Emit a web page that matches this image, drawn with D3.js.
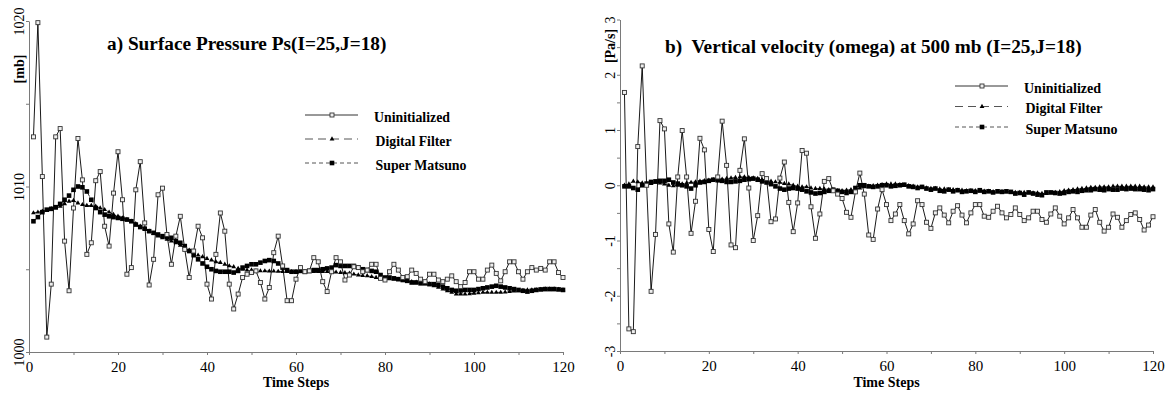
<!DOCTYPE html>
<html>
<head>
<meta charset="utf-8">
<script src="https://cdn.jsdelivr.net/npm/d3@7"></script>
<style>
  body { margin: 0; background: #fff; }
  svg { font-family: "Liberation Serif", "Times New Roman", serif; }
</style>
</head>
<body>
<svg id="chart" width="1169" height="394"></svg>
<script>
// time steps 1..120
const steps = d3.range(1, 121);

// a) surface pressure [mb]
const psUninit = [
  1013.0,1019.9,1010.6,1000.9,1004.1,1013.0,1013.5,1006.7,1003.7,1008.7,
  1012.9,1010.4,1005.9,1006.6,1010.35,1010.9,1007.6,1006.4,1009.6,1012.1,
  1009.2,1004.7,1005.1,1009.8,1011.5,1007.8,1004.05,1005.6,1009.5,1009.9,
  1007.1,1005.3,1007.0,1008.2,1006.2,1004.5,1006.1,1007.6,1006.9,1004.1,
  1003.2,1005.9,1008.4,1007.3,1004.1,1002.6,1003.5,1004.5,1004.7,1004.8,
  1004.9,1004.2,1003.2,1003.9,1006.0,1007.0,1005.2,1003.1,1003.1,1004.4,
  1005.1,1004.85,1004.9,1005.7,1005.45,1004.25,1003.65,1004.85,1005.7,1005.45,
  1004.35,1004.65,1005.15,1005.1,1004.85,1004.95,1005.3,1005.3,1004.45,1004.35,
  1004.85,1005.3,1004.95,1004.5,1004.55,1004.95,1004.75,1004.4,1004.25,1004.7,
  1004.7,1004.35,1004.25,1004.4,1004.6,1004.25,1003.95,1004.2,1004.85,1004.85,
  1004.4,1004.4,1004.95,1005.25,1004.75,1004.3,1004.85,1005.45,1005.45,1004.85,
  1004.4,1004.85,1005.1,1004.95,1005.05,1004.95,1005.45,1005.45,1004.8,1004.5
];
const psDigital = [
  1008.4,1008.45,1008.5,1008.55,1008.65,1008.7,1008.8,1008.95,1009.1,1009.15,
  1009.0,1008.9,1008.85,1008.85,1008.8,1008.7,1008.6,1008.45,1008.3,1008.2,
  1008.1,1008.0,1007.9,1007.75,1007.6,1007.45,1007.3,1007.15,1007.0,1006.9,
  1006.8,1006.7,1006.6,1006.45,1006.3,1006.15,1006.0,1005.85,1005.75,1005.65,
  1005.55,1005.45,1005.4,1005.3,1005.2,1005.15,1005.05,1005.0,1004.95,1004.95,
  1004.9,1004.9,1004.9,1004.88,1004.88,1004.87,1004.86,1004.85,1004.85,1004.85,
  1004.85,1004.85,1004.85,1004.85,1004.85,1004.85,1004.85,1004.85,1004.82,1004.8,
  1004.78,1004.75,1004.7,1004.65,1004.62,1004.6,1004.55,1004.5,1004.48,1004.45,
  1004.42,1004.4,1004.38,1004.35,1004.3,1004.25,1004.22,1004.2,1004.15,1004.1,
  1004.0,1003.9,1003.8,1003.7,1003.6,1003.5,1003.5,1003.5,1003.52,1003.55,
  1003.57,1003.6,1003.6,1003.6,1003.6,1003.6,1003.62,1003.65,1003.68,1003.7,
  1003.72,1003.75,1003.75,1003.75,1003.78,1003.8,1003.8,1003.8,1003.78,1003.75
];
const psMatsuno = [
  1007.9,1008.15,1008.45,1008.6,1008.65,1008.75,1008.95,1009.2,1009.45,1009.8,
  1010.0,1009.95,1009.7,1009.2,1008.7,1008.45,1008.3,1008.2,1008.15,1008.1,
  1008.05,1008.0,1007.9,1007.7,1007.55,1007.45,1007.3,1007.2,1007.1,1007.0,
  1006.95,1006.9,1006.7,1006.6,1006.4,1006.1,1005.85,1005.6,1005.35,1005.15,
  1005.0,1004.9,1004.85,1004.85,1004.85,1004.8,1004.9,1005.1,1005.2,1005.3,
  1005.3,1005.4,1005.5,1005.55,1005.5,1005.35,1005.1,1004.95,1004.85,1004.85,
  1004.9,1004.85,1004.9,1004.95,1004.95,1005.0,1005.05,1005.1,1005.25,1005.2,
  1005.2,1005.2,1005.2,1005.1,1005.0,1004.95,1004.9,1004.85,1004.65,1004.5,
  1004.5,1004.45,1004.4,1004.35,1004.3,1004.2,1004.2,1004.15,1004.15,1004.1,
  1004.1,1004.05,1003.95,1003.85,1003.75,1003.7,1003.72,1003.75,1003.75,1003.75,
  1003.8,1003.85,1003.9,1003.95,1004.0,1003.95,1003.9,1003.85,1003.8,1003.75,
  1003.7,1003.65,1003.7,1003.75,1003.78,1003.8,1003.8,1003.8,1003.78,1003.75
];

// b) omega at 500 mb [Pa/s]
const omUninit = [
  1.68,-2.6,-2.65,0.7,2.16,0.0,-1.92,-0.89,1.17,1.02,
  -0.7,-1.21,0.15,0.99,0.15,-0.87,-0.29,0.85,0.64,-0.8,
  -1.2,0.15,1.16,0.36,-1.08,-1.13,0.27,0.84,-0.05,-1.0,
  -0.55,0.21,0.12,-0.66,-0.61,0.13,0.42,-0.31,-0.84,-0.32,
  0.63,0.58,-0.39,-0.96,-0.52,0.07,0.12,-0.1,-0.16,-0.24,
  -0.49,-0.58,-0.12,0.22,-0.16,-0.9,-0.98,-0.43,-0.08,-0.35,
  -0.64,-0.52,-0.35,-0.64,-0.88,-0.7,-0.28,-0.35,-0.67,-0.78,
  -0.5,-0.41,-0.54,-0.68,-0.47,-0.37,-0.54,-0.68,-0.5,-0.35,
  -0.35,-0.56,-0.58,-0.47,-0.38,-0.5,-0.59,-0.53,-0.41,-0.53,
  -0.64,-0.59,-0.47,-0.47,-0.62,-0.67,-0.52,-0.41,-0.56,-0.7,
  -0.59,-0.44,-0.59,-0.76,-0.76,-0.54,-0.44,-0.67,-0.83,-0.76,
  -0.52,-0.58,-0.76,-0.64,-0.53,-0.5,-0.62,-0.81,-0.72,-0.57
];
const omDigital = [
  0.0,0.02,0.07,0.06,0.04,0.02,0.03,0.05,0.04,0.02,
  0.0,-0.01,0.0,0.02,0.04,0.05,0.06,0.07,0.08,0.09,
  0.1,0.1,0.11,0.12,0.13,0.14,0.15,0.15,0.14,0.13,
  0.12,0.1,0.09,0.07,0.06,0.05,0.03,0.02,0.0,-0.02,
  -0.03,-0.03,-0.05,-0.06,-0.06,-0.07,-0.08,-0.09,-0.1,-0.1,
  -0.09,-0.08,-0.07,-0.05,-0.03,-0.02,-0.01,0.0,0.01,0.02,
  0.02,0.02,0.01,0.0,-0.01,-0.02,-0.03,-0.04,-0.05,-0.06,
  -0.06,-0.07,-0.07,-0.08,-0.08,-0.09,-0.09,-0.1,-0.1,-0.1,
  -0.11,-0.11,-0.11,-0.12,-0.12,-0.12,-0.12,-0.13,-0.13,-0.13,
  -0.13,-0.14,-0.14,-0.14,-0.15,-0.15,-0.14,-0.13,-0.12,-0.1,
  -0.09,-0.08,-0.07,-0.06,-0.05,-0.04,-0.04,-0.03,-0.03,-0.03,
  -0.02,-0.02,-0.02,-0.02,-0.02,-0.02,-0.02,-0.03,-0.03,-0.03
];
const omMatsuno = [
  -0.02,-0.02,-0.05,-0.08,0.0,0.03,0.06,0.07,0.08,0.08,
  0.1,0.05,0.03,0.0,-0.02,-0.06,0.0,0.05,0.06,0.08,
  0.1,0.09,0.08,0.06,0.06,0.07,0.08,0.1,0.11,0.12,
  0.1,0.07,0.05,0.02,-0.02,-0.06,-0.08,-0.06,-0.05,-0.06,
  -0.08,-0.11,-0.13,-0.15,-0.14,-0.12,-0.1,-0.08,-0.1,-0.12,
  -0.14,-0.12,-0.05,0.0,0.0,-0.02,-0.03,-0.02,0.0,0.0,
  -0.02,-0.01,0.0,0.01,-0.02,-0.03,-0.05,-0.03,-0.06,-0.08,
  -0.06,-0.1,-0.11,-0.08,-0.11,-0.09,-0.12,-0.11,-0.1,-0.12,
  -0.09,-0.12,-0.11,-0.13,-0.11,-0.12,-0.11,-0.12,-0.15,-0.14,
  -0.17,-0.13,-0.15,-0.17,-0.18,-0.13,-0.13,-0.14,-0.15,-0.14,
  -0.12,-0.11,-0.12,-0.1,-0.09,-0.09,-0.07,-0.08,-0.09,-0.07,
  -0.08,-0.08,-0.06,-0.07,-0.06,-0.07,-0.07,-0.08,-0.09,-0.07
];

const seriesNames = ["Uninitialized", "Digital Filter", "Super Matsuno"];
const xTicks = [0, 20, 40, 60, 80, 100, 120];
const xMinor = [10, 30, 50, 70, 90, 110];
const psTicks = [1000, 1010, 1020];
const psMinor = [1005, 1015];
const omTicks = [-3, -2, -1, 0, 1, 2, 3];
const omMinor = [-2.5, -1.5, -0.5, 0.5, 1.5, 2.5];

const svg = d3.select("#chart");
const axisGrey = "#7a7a7a";
const serif = "Liberation Serif, Times New Roman, serif";

const panels = [
  { left: 29, right: 563, top: 21, bottom: 352, domain: [1000, 1020],
    ticks: psTicks, minor: psMinor, unit: "[mb]", unitY: 69,
    title: "a) Surface Pressure Ps(I=25,J=18)", titleX: 107, titleY: 50,
    legX: 305, legY: 115, legGap: 24, legW: [76, 76, 91],
    data: [psUninit, psDigital, psMatsuno] },
  { left: 620, right: 1153, top: 19.5, bottom: 351, domain: [-3, 3],
    ticks: omTicks, minor: omMinor, unit: "[Pa/s]", unitY: 46,
    title: "b)  Vertical velocity (omega) at 500 mb (I=25,J=18)", titleX: 665, titleY: 53,
    legX: 955, legY: 86, legGap: 20.5, legW: [77, 77, 92],
    data: [omUninit, omDigital, omMatsuno] }
];

const dashes = [null, "8,5", "4,3"];

function drawMarker(g, kind, cx, cy) {
  if (kind === 0) {
    g.append("rect").attr("x", cx - 2).attr("y", cy - 2).attr("width", 4).attr("height", 4)
      .attr("fill", "#eee").attr("stroke", "#333").attr("stroke-width", 0.9);
  } else if (kind === 1) {
    g.append("path").attr("transform", `translate(${cx},${cy})`)
      .attr("d", d3.symbol(d3.symbolTriangle, 10)()).attr("fill", "#000");
  } else {
    g.append("rect").attr("x", cx - 2.3).attr("y", cy - 2.3).attr("width", 4.6).attr("height", 4.6)
      .attr("fill", "#000");
  }
}

panels.forEach(p => {
  const x = d3.scaleLinear().domain([0, 120]).range([p.left, p.right]);
  const y = d3.scaleLinear().domain(p.domain).range([p.bottom, p.top]);

  // x axis
  const xa = svg.append("g").attr("transform", `translate(0,${p.bottom})`)
    .call(d3.axisBottom(x).tickValues(xTicks).tickSize(3).tickSizeOuter(0).tickPadding(6));
  svg.append("g").attr("transform", `translate(0,${p.bottom})`)
    .call(d3.axisBottom(x).tickValues(xMinor).tickSize(3).tickFormat(""))
    .select(".domain").remove();

  // y axis
  const ya = svg.append("g").attr("transform", `translate(${p.left},0)`)
    .call(d3.axisLeft(y).tickValues(p.ticks).tickSize(3).tickSizeOuter(0).tickFormat(d => String(d)));
  svg.append("g").attr("transform", `translate(${p.left},0)`)
    .call(d3.axisLeft(y).tickValues(p.minor).tickSize(3).tickFormat(""))
    .select(".domain").remove();

  svg.selectAll(".domain, .tick line").attr("stroke", axisGrey);
  xa.selectAll("text").attr("font-size", 15).attr("fill", "#000").attr("font-family", serif);
  ya.selectAll("text").attr("font-size", 14).attr("fill", "#000").attr("font-family", serif)
    .attr("x", 0).attr("dy", 0).attr("text-anchor", "middle")
    .attr("transform", "translate(-5,0) rotate(-90)");

  // unit label
  svg.append("text").attr("transform", `translate(${p.left - 5},${p.unitY}) rotate(-90)`)
    .attr("text-anchor", "middle").attr("font-family", serif)
    .attr("font-size", 14).attr("font-weight", "bold")
    .text(p.unit);

  // x label
  svg.append("text").attr("x", (p.left + p.right) / 2).attr("y", 387)
    .attr("text-anchor", "middle").attr("font-family", serif)
    .attr("font-size", 14).attr("font-weight", "bold")
    .text("Time Steps");

  // title
  svg.append("text").attr("x", p.titleX).attr("y", p.titleY)
    .attr("font-family", serif).attr("font-size", 19.3).attr("font-weight", "bold")
    .style("white-space", "pre")
    .text(p.title);

  // series: smooth ones first, uninitialized on top
  const line = d3.line().x((d, i) => x(steps[i])).y(d => y(d));
  [2, 1, 0].forEach(k => {
    const vals = p.data[k];
    const g = svg.append("g");
    g.append("path").attr("d", line(vals)).attr("fill", "none")
      .attr("stroke", "#000").attr("stroke-width", k === 0 ? 0.9 : 0.8)
      .attr("stroke-dasharray", dashes[k]);
    vals.forEach((v, i) => drawMarker(g, k, x(steps[i]), y(v)));
  });

  // legend
  seriesNames.forEach((name, k) => {
    const ly = p.legY + k * p.legGap;
    const g = svg.append("g");
    g.append("line").attr("x1", p.legX).attr("x2", p.legX + 53).attr("y1", ly).attr("y2", ly)
      .attr("stroke", k === 0 ? "#333" : "#555").attr("stroke-width", 1)
      .attr("stroke-dasharray", dashes[k]);
    drawMarker(g, k, p.legX + 27, ly);
    g.append("text").attr("x", p.legX + 69 + (k === 0 ? 0 : 1.5)).attr("y", ly + 6.5)
      .attr("font-family", serif).attr("font-size", 14).attr("font-weight", "bold")
      .attr("textLength", p.legW[k]).attr("lengthAdjust", "spacingAndGlyphs")
      .text(name);
  });
});
</script>
</body>
</html>
